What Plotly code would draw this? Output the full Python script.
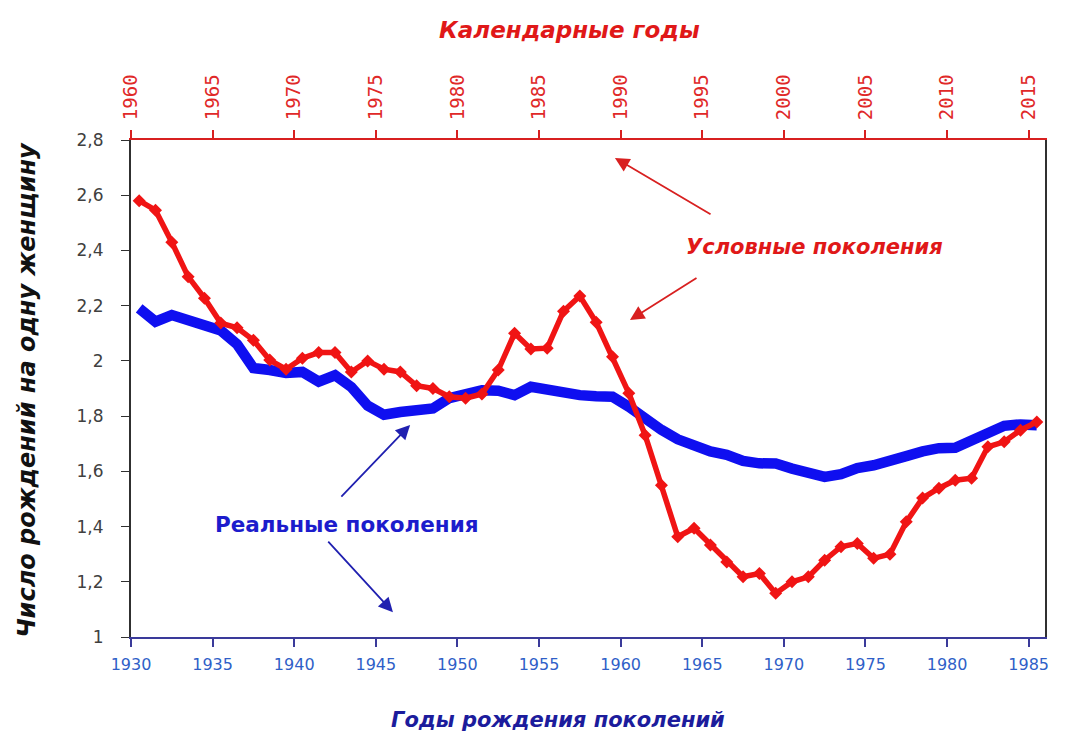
import plotly.graph_objects as go

years = list(range(1930, 1986))

conditional = [2.58, 2.546, 2.43, 2.305, 2.227, 2.137, 2.12, 2.075, 2.003, 1.97,
               2.01, 2.03, 2.03, 1.96, 2.00, 1.97, 1.96, 1.91, 1.90, 1.87,
               1.865, 1.88, 1.967, 2.10, 2.043, 2.046, 2.18, 2.235, 2.14, 2.015,
               1.883, 1.731, 1.55, 1.363, 1.394, 1.333, 1.272, 1.218, 1.23, 1.158,
               1.20, 1.218, 1.278, 1.327, 1.339, 1.285, 1.30, 1.417, 1.503, 1.539,
               1.568, 1.575, 1.689, 1.707, 1.749, 1.779]

real = [2.19, 2.142, 2.166, 2.148, 2.137, 2.11, 2.06, 1.974, 1.967, 1.956,
        1.96, 1.925, 1.948, 1.905, 1.838, 1.805, 1.815, 1.818, 1.828, 1.865,
        1.88, 1.894, 1.892, 1.876, 1.906, 1.895, 1.884, 1.876, 1.872, 1.87,
        1.834, 1.79, 1.75, 1.716, 1.69, 1.672, 1.66, 1.638, 1.629, 1.628,
        1.61, 1.592, 1.58, 1.59, 1.612, 1.622, 1.634, 1.655, 1.672, 1.684,
        1.685, 1.715, 1.745, 1.765, 1.77, 1.767]

bottom_ticks = list(range(1930, 1986, 5))
top_ticks = list(range(1960, 2016, 5))
calendar_shift = 30

# Excel-style category centering: each year's point sits in the middle of its slot
xpos = [y + 0.5 for y in years]

fig = go.Figure()
fig.add_trace(go.Scatter(x=xpos, y=real, mode="lines",
                         line=dict(color="#0F0FF0", width=10.5),
                         name="Реальные поколения", hoverinfo="x+y"))
fig.add_trace(go.Scatter(x=xpos, y=conditional, mode="lines+markers",
                         line=dict(color="#F01414", width=5.5),
                         marker=dict(symbol="diamond", size=10, color="#F01414"),
                         name="Условные поколения", hoverinfo="x+y"))

FONT = "DejaVu Sans"
MONO = "DejaVu Sans Mono"

fig.update_layout(
    width=1065, height=735,
    margin=dict(l=131, r=20, t=140, b=98),
    paper_bgcolor="white", plot_bgcolor="white",
    showlegend=False,
    separators=", ",
    font=dict(family=FONT),
    xaxis=dict(range=[1930, 1986], tickvals=bottom_ticks,
               ticktext=[str(t) for t in bottom_ticks],
               showgrid=False, zeroline=False,
               showline=True, linecolor="#3A3A9A", linewidth=2,
               ticks="outside", ticklen=8, tickcolor="#3A3A9A", tickwidth=1.5,
               ticklabelstandoff=4,
               tickfont=dict(family=FONT, size=16, color="#2F5FC8")),
    xaxis2=dict(range=[1930 + calendar_shift, 1986 + calendar_shift],
                tickvals=top_ticks, ticktext=[str(t) for t in top_ticks],
                overlaying="x", side="top", anchor="y",
                showgrid=False, zeroline=False,
                showline=True, linecolor="#D82020", linewidth=2,
                ticks="outside", ticklen=8, tickcolor="#D82020", tickwidth=1.5,
                tickangle=-90, ticklabelstandoff=6,
                tickfont=dict(family=MONO, size=19, color="#E02828")),
    yaxis=dict(range=[1, 2.8], dtick=0.2, tick0=1,
               showgrid=False, zeroline=False,
               showline=True, linecolor="#303030", linewidth=2, mirror=True,
               ticks="outside", ticklen=8, tickcolor="#303030",
               ticklabelstandoff=14,
               tickfont=dict(family=FONT, size=17, color="#404040")),
)

# invisible trace to activate the top (calendar) axis
fig.add_trace(go.Scatter(x=[1960, 2015], y=[None, None], xaxis="x2",
                         mode="lines", showlegend=False, hoverinfo="skip"))

annotations = [
    dict(text="Календарные годы", xref="paper", yref="paper", x=0.48, y=1.221,
         showarrow=False, xanchor="center", yanchor="middle",
         font=dict(family=FONT, size=23, color="#E01818", weight="bold", style="italic")),
    dict(text="Годы рождения поколений", xref="paper", yref="paper", x=0.467, y=-0.167,
         showarrow=False, xanchor="center", yanchor="middle",
         font=dict(family=FONT, size=21, color="#1C1C9C", weight="bold", style="italic")),
    dict(text="Число рождений на одну женщину", xref="paper", yref="paper", x=-0.114, y=0.497,
         showarrow=False, xanchor="center", yanchor="middle", textangle=-90,
         font=dict(family=FONT, size=24, color="#111111", weight="bold", style="italic")),
    dict(text="Условные поколения", xref="x", yref="y", x=1971.85, y=2.412,
         showarrow=False, xanchor="center", yanchor="middle",
         font=dict(family=FONT, size=21, color="#E01818", weight="bold", style="italic")),
    dict(text="Реальные поколения", xref="x", yref="y", x=1943.23, y=1.406,
         showarrow=False, xanchor="center", yanchor="middle",
         font=dict(family=FONT, size=21.5, color="#1C1CCC", weight="bold")),
]

arrows = [
    # (head_x, head_y, tail_x, tail_y, color)
    (1959.65, 2.735, 1965.6, 2.528, "#D82020"),
    (1960.57, 2.148, 1964.74, 2.304, "#D82020"),
    (1947.1, 1.768, 1942.8, 1.503, "#2020B0"),
    (1946.05, 1.09, 1942.0, 1.351, "#2020B0"),
]
for hx, hy, tx, ty, col in arrows:
    annotations.append(dict(x=hx, y=hy, ax=tx, ay=ty, xref="x", yref="y",
                            axref="x", ayref="y", text="", showarrow=True,
                            arrowhead=2, arrowsize=1.6, arrowwidth=1.8,
                            arrowcolor=col, standoff=0))

fig.update_layout(annotations=annotations)

fig.write_html("out.html", config={"displayModeBar": False},
               post_script="document.body.style.margin='0';document.body.style.padding='0';")
